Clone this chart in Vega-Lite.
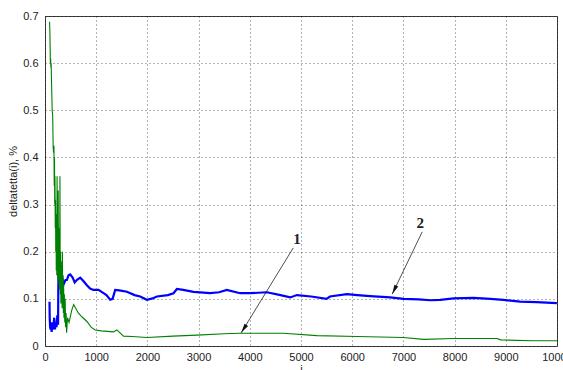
{
  "$schema": "https://vega.github.io/schema/vega-lite/v6.json",
  "width": 512,
  "height": 330,
  "autosize": {"type": "none"},
  "padding": {"left": 45, "top": 16, "right": 6, "bottom": 24},
  "background": "#ffffff",
  "config": {
    "view": {"stroke": "#404040", "strokeWidth": 1},
    "font": "Liberation Sans",
    "axis": {
      "domain": false,
      "grid": true,
      "gridColor": "#000000",
      "gridDash": [1, 3],
      "gridOpacity": 0.6,
      "tickColor": "#404040",
      "tickSize": 0,
      "labelOverlap": false,
      "labelFlush": false,
      "labelFont": "Liberation Sans",
      "labelFontSize": 11,
      "labelColor": "#222222",
      "titleFont": "Liberation Sans",
      "titleFontSize": 11,
      "titleFontWeight": "normal",
      "titleColor": "#222222"
    }
  },
  "datasets": {
    "main": [
      {"s": "2", "i": 88, "v": 0.094}, {"s": "2", "i": 92, "v": 0.06}, {"s": "2", "i": 100, "v": 0.04}, {"s": "2", "i": 110, "v": 0.035}, {"s": "2", "i": 120, "v": 0.045}, {"s": "2", "i": 130, "v": 0.03}, {"s": "2", "i": 140, "v": 0.05}, {"s": "2", "i": 150, "v": 0.035}, {"s": "2", "i": 165, "v": 0.04}, {"s": "2", "i": 180, "v": 0.06}, {"s": "2", "i": 195, "v": 0.035}, {"s": "2", "i": 210, "v": 0.05}, {"s": "2", "i": 225, "v": 0.04}, {"s": "2", "i": 240, "v": 0.065}, {"s": "2", "i": 255, "v": 0.045}, {"s": "2", "i": 262, "v": 0.15}, {"s": "2", "i": 275, "v": 0.17}, {"s": "2", "i": 290, "v": 0.16}, {"s": "2", "i": 310, "v": 0.14}, {"s": "2", "i": 330, "v": 0.15}, {"s": "2", "i": 360, "v": 0.13}, {"s": "2", "i": 400, "v": 0.14}, {"s": "2", "i": 427, "v": 0.14}, {"s": "2", "i": 460, "v": 0.15}, {"s": "2", "i": 492, "v": 0.152}, {"s": "2", "i": 540, "v": 0.145}, {"s": "2", "i": 580, "v": 0.135}, {"s": "2", "i": 620, "v": 0.14}, {"s": "2", "i": 688, "v": 0.145}, {"s": "2", "i": 750, "v": 0.138}, {"s": "2", "i": 818, "v": 0.129}, {"s": "2", "i": 880, "v": 0.122}, {"s": "2", "i": 947, "v": 0.119}, {"s": "2", "i": 1045, "v": 0.119}, {"s": "2", "i": 1143, "v": 0.112}, {"s": "2", "i": 1200, "v": 0.108}, {"s": "2", "i": 1273, "v": 0.098}, {"s": "2", "i": 1320, "v": 0.1}, {"s": "2", "i": 1371, "v": 0.119}, {"s": "2", "i": 1450, "v": 0.118}, {"s": "2", "i": 1600, "v": 0.115}, {"s": "2", "i": 1750, "v": 0.108}, {"s": "2", "i": 1859, "v": 0.105}, {"s": "2", "i": 1990, "v": 0.098}, {"s": "2", "i": 2100, "v": 0.101}, {"s": "2", "i": 2185, "v": 0.105}, {"s": "2", "i": 2400, "v": 0.108}, {"s": "2", "i": 2510, "v": 0.112}, {"s": "2", "i": 2576, "v": 0.121}, {"s": "2", "i": 2700, "v": 0.119}, {"s": "2", "i": 2900, "v": 0.115}, {"s": "2", "i": 3227, "v": 0.112}, {"s": "2", "i": 3400, "v": 0.114}, {"s": "2", "i": 3552, "v": 0.119}, {"s": "2", "i": 3812, "v": 0.112}, {"s": "2", "i": 4008, "v": 0.112}, {"s": "2", "i": 4334, "v": 0.114}, {"s": "2", "i": 4600, "v": 0.108}, {"s": "2", "i": 4789, "v": 0.103}, {"s": "2", "i": 4920, "v": 0.108}, {"s": "2", "i": 5200, "v": 0.105}, {"s": "2", "i": 5500, "v": 0.1}, {"s": "2", "i": 5565, "v": 0.105}, {"s": "2", "i": 5896, "v": 0.11}, {"s": "2", "i": 6100, "v": 0.108}, {"s": "2", "i": 6352, "v": 0.106}, {"s": "2", "i": 6742, "v": 0.103}, {"s": "2", "i": 7003, "v": 0.1}, {"s": "2", "i": 7300, "v": 0.099}, {"s": "2", "i": 7523, "v": 0.097}, {"s": "2", "i": 7719, "v": 0.098}, {"s": "2", "i": 7979, "v": 0.101}, {"s": "2", "i": 8370, "v": 0.102}, {"s": "2", "i": 8700, "v": 0.1}, {"s": "2", "i": 8955, "v": 0.098}, {"s": "2", "i": 9281, "v": 0.094}, {"s": "2", "i": 9600, "v": 0.093}, {"s": "2", "i": 9998, "v": 0.091},
      {"s": "1", "i": 88, "v": 0.688}, {"s": "1", "i": 95, "v": 0.67}, {"s": "1", "i": 105, "v": 0.6}, {"s": "1", "i": 110, "v": 0.61}, {"s": "1", "i": 115, "v": 0.59}, {"s": "1", "i": 120, "v": 0.6}, {"s": "1", "i": 130, "v": 0.55}, {"s": "1", "i": 140, "v": 0.5}, {"s": "1", "i": 150, "v": 0.49}, {"s": "1", "i": 160, "v": 0.42}, {"s": "1", "i": 168, "v": 0.41}, {"s": "1", "i": 175, "v": 0.425}, {"s": "1", "i": 180, "v": 0.34}, {"s": "1", "i": 185, "v": 0.4}, {"s": "1", "i": 190, "v": 0.3}, {"s": "1", "i": 195, "v": 0.36}, {"s": "1", "i": 200, "v": 0.25}, {"s": "1", "i": 205, "v": 0.31}, {"s": "1", "i": 210, "v": 0.2}, {"s": "1", "i": 215, "v": 0.27}, {"s": "1", "i": 220, "v": 0.16}, {"s": "1", "i": 225, "v": 0.28}, {"s": "1", "i": 230, "v": 0.15}, {"s": "1", "i": 236, "v": 0.36}, {"s": "1", "i": 242, "v": 0.18}, {"s": "1", "i": 248, "v": 0.26}, {"s": "1", "i": 253, "v": 0.14}, {"s": "1", "i": 258, "v": 0.33}, {"s": "1", "i": 263, "v": 0.17}, {"s": "1", "i": 268, "v": 0.25}, {"s": "1", "i": 274, "v": 0.13}, {"s": "1", "i": 280, "v": 0.22}, {"s": "1", "i": 286, "v": 0.12}, {"s": "1", "i": 292, "v": 0.36}, {"s": "1", "i": 298, "v": 0.11}, {"s": "1", "i": 304, "v": 0.2}, {"s": "1", "i": 310, "v": 0.09}, {"s": "1", "i": 316, "v": 0.18}, {"s": "1", "i": 322, "v": 0.1}, {"s": "1", "i": 328, "v": 0.17}, {"s": "1", "i": 334, "v": 0.08}, {"s": "1", "i": 340, "v": 0.2}, {"s": "1", "i": 346, "v": 0.09}, {"s": "1", "i": 352, "v": 0.15}, {"s": "1", "i": 358, "v": 0.07}, {"s": "1", "i": 364, "v": 0.13}, {"s": "1", "i": 370, "v": 0.06}, {"s": "1", "i": 378, "v": 0.11}, {"s": "1", "i": 386, "v": 0.05}, {"s": "1", "i": 394, "v": 0.1}, {"s": "1", "i": 402, "v": 0.04}, {"s": "1", "i": 412, "v": 0.07}, {"s": "1", "i": 422, "v": 0.028}, {"s": "1", "i": 440, "v": 0.06}, {"s": "1", "i": 470, "v": 0.05}, {"s": "1", "i": 520, "v": 0.075}, {"s": "1", "i": 560, "v": 0.088}, {"s": "1", "i": 600, "v": 0.08}, {"s": "1", "i": 650, "v": 0.07}, {"s": "1", "i": 720, "v": 0.062}, {"s": "1", "i": 818, "v": 0.052}, {"s": "1", "i": 900, "v": 0.04}, {"s": "1", "i": 980, "v": 0.034}, {"s": "1", "i": 1100, "v": 0.032}, {"s": "1", "i": 1338, "v": 0.03}, {"s": "1", "i": 1404, "v": 0.034}, {"s": "1", "i": 1533, "v": 0.021}, {"s": "1", "i": 1700, "v": 0.02}, {"s": "1", "i": 1990, "v": 0.018}, {"s": "1", "i": 2500, "v": 0.021}, {"s": "1", "i": 2967, "v": 0.023}, {"s": "1", "i": 3500, "v": 0.026}, {"s": "1", "i": 3812, "v": 0.027}, {"s": "1", "i": 4658, "v": 0.027}, {"s": "1", "i": 5310, "v": 0.022}, {"s": "1", "i": 6092, "v": 0.02}, {"s": "1", "i": 7000, "v": 0.018}, {"s": "1", "i": 7390, "v": 0.014}, {"s": "1", "i": 7975, "v": 0.016}, {"s": "1", "i": 8826, "v": 0.016}, {"s": "1", "i": 8900, "v": 0.013}, {"s": "1", "i": 9535, "v": 0.011}, {"s": "1", "i": 10000, "v": 0.011}
    ],
    "notes": [
      {"label": "1", "tx": 4920, "ty": 0.227, "x0": 4848, "y0": 0.208, "x1": 3832, "y1": 0.028},
      {"label": "2", "tx": 7328, "ty": 0.261, "x0": 7367, "y0": 0.242, "x1": 6781, "y1": 0.11}
    ]
  },
  "layer": [
    {
      "data": {"name": "main"},
      "transform": [{"filter": "datum.s == '2'"}],
      "mark": {"type": "line", "color": "#0000ff", "strokeWidth": 2.2, "clip": true},
      "encoding": {
        "x": {"field": "i", "type": "quantitative", "scale": {"domain": [0, 10000], "nice": false}, "axis": {"title": "i", "values": [0,1000,2000,3000,4000,5000,6000,7000,8000,9000,10000], "format": "d", "labelPadding": 5, "titlePadding": 1}},
        "y": {"field": "v", "type": "quantitative", "scale": {"domain": [0, 0.7], "nice": false}, "axis": {"title": "deltatetta(i), %", "values": [0,0.1,0.2,0.3,0.4,0.5,0.6,0.7], "format": ".1~f", "labelPadding": 7, "titlePadding": 4}}
      }
    },
    {
      "data": {"name": "main"},
      "transform": [{"filter": "datum.s == '1'"}],
      "mark": {"type": "line", "color": "#008000", "strokeWidth": 1.1, "clip": true},
      "encoding": {
        "x": {"field": "i", "type": "quantitative"},
        "y": {"field": "v", "type": "quantitative"}
      }
    },
    {
      "data": {"name": "notes"},
      "mark": {"type": "rule", "color": "#222222", "strokeWidth": 0.8},
      "encoding": {
        "x": {"field": "x0", "type": "quantitative"},
        "y": {"field": "y0", "type": "quantitative"},
        "x2": {"field": "x1"},
        "y2": {"field": "y1"}
      }
    },
    {
      "data": {"name": "notes"},
      "transform": [{"filter": "datum.label == '1'"}],
      "mark": {"type": "point", "shape": "M0,0L-0.45,2L0.45,2Z", "filled": true, "color": "#111111", "opacity": 1, "size": 90, "angle": 212.4},
      "encoding": {
        "x": {"field": "x1", "type": "quantitative"},
        "y": {"field": "y1", "type": "quantitative"}
      }
    },
    {
      "data": {"name": "notes"},
      "transform": [{"filter": "datum.label == '2'"}],
      "mark": {"type": "point", "shape": "M0,0L-0.45,2L0.45,2Z", "filled": true, "color": "#111111", "opacity": 1, "size": 90, "angle": 205.8},
      "encoding": {
        "x": {"field": "x1", "type": "quantitative"},
        "y": {"field": "y1", "type": "quantitative"}
      }
    },
    {
      "data": {"name": "notes"},
      "mark": {"type": "text", "font": "Liberation Serif", "fontSize": 15, "fontWeight": "bold", "color": "#222222"},
      "encoding": {
        "x": {"field": "tx", "type": "quantitative"},
        "y": {"field": "ty", "type": "quantitative"},
        "text": {"field": "label"}
      }
    }
  ]
}
